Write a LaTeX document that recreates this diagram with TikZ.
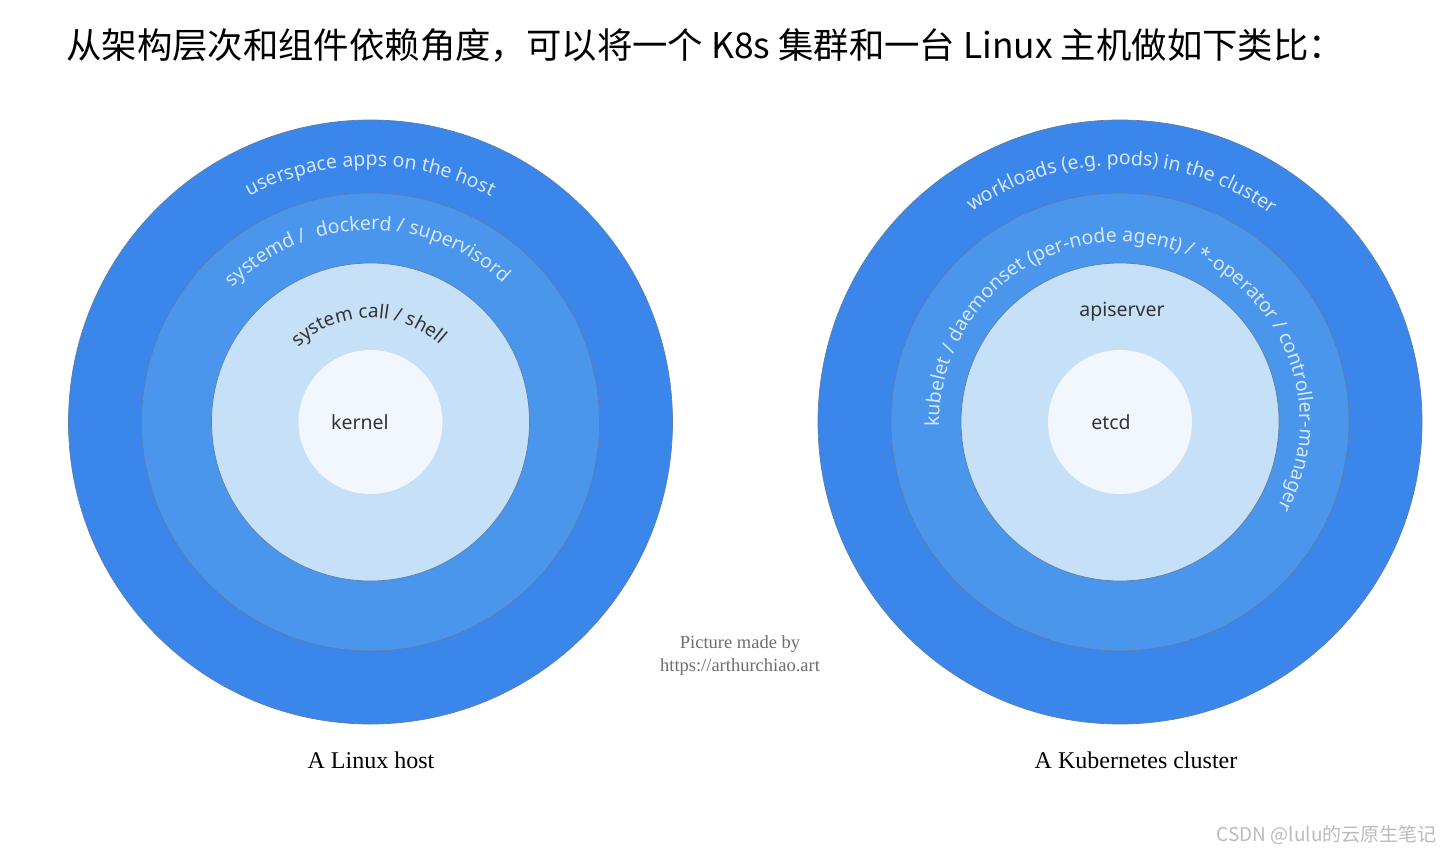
\documentclass[tikz,border=0pt]{standalone}
\usepackage{fontspec}
\setmainfont{Liberation Serif}
\newfontfamily\cjkfont{Noto Sans CJK SC}
\newfontfamily\ringfont{Noto Sans}
\usetikzlibrary{decorations.text}

\definecolor{ringouter}{HTML}{3A86EA}
\definecolor{ringmid}{HTML}{4A96EC}
\definecolor{ringinner}{HTML}{C6E0F8}
\definecolor{ringcore}{HTML}{F2F7FE}
\definecolor{ringedge}{HTML}{5C7FA6}
\definecolor{lighttext}{HTML}{D6E7FB}
\definecolor{darktext}{HTML}{333333}
\definecolor{notegray}{HTML}{6E6E6E}
\definecolor{markgray}{HTML}{BBBBBB}

\tikzset{
  ring/.style={draw=ringedge, line width=0.7pt},
  lightlabel/.style={decorate, decoration={text along path, text align=center,
      text={|\ringfont\fontsize{19.5pt}{19.5pt}\selectfont\color{lighttext}|#1}}},
  darklabel/.style={decorate, decoration={text along path, text align=center,
      text={|\ringfont\fontsize{19pt}{19pt}\selectfont\color{darktext}|#1}}},
  coretext/.style={font=\ringfont\fontsize{19.5pt}{19.5pt}\selectfont, text=darktext},
  caption/.style={font=\fontsize{24pt}{24pt}\selectfont, text=black},
}

\begin{document}
\begin{tikzpicture}[x=1pt, y=1pt, line cap=round, line join=round]
  \useasboundingbox (0,0) rectangle (1452,-854);
  \fill[white] (0,0) rectangle (1452,-854);

  % Title
  \node[anchor=west, inner sep=0pt, font=\cjkfont\fontsize{35.4pt}{35.4pt}\selectfont] (title) at (66,-45)
    {从架构层次和组件依赖角度，可以将一个 K8s 集群和一台 Linux 主机做如下类比：};

  \coordinate (host) at (370.5,-422);
  \coordinate (cluster) at (1120,-422);

  % Rings of the host and of the cluster
  \foreach \ctr in {host, cluster} {
    \fill[ringouter, ring] (\ctr) circle (302);
    \fill[ringmid, ring] (\ctr) circle (229);
    \fill[ringinner, ring] (\ctr) circle (159);
    \fill[ringcore] (\ctr) circle (72);
  }

  % Linux host labels
  \path[lightlabel={userspace apps on the host}] (host) ++(150:256) arc[start angle=150, end angle=30, radius=256];
  \path[lightlabel={systemd /{\ } dockerd / supervisord}] (host) ++(181:192) arc[start angle=181, end angle=1, radius=192];
  \path[darklabel={system call / shell}] (host) ++(171:104) arc[start angle=171, end angle=11, radius=104];
  \node[coretext] (kernel) at (360,-422) {kernel};

  % Kubernetes cluster labels
  \path[lightlabel={workloads (e.g. pods) in the cluster}] (cluster) ++(150:257) arc[start angle=150, end angle=29, radius=257];
  \path[lightlabel={kubelet / daemonset (per-node agent) / *-operator / controller-manager}] (cluster) ++(200:180) arc[start angle=200, end angle=-47, radius=180];
  \node[coretext] (apiserver) at (1122,-312) {apiserver};
  \node[coretext] (etcd) at (1111,-422) {etcd};

  % Captions
  \node[caption] (hostcap) at (371,-760) {A Linux host};
  \node[caption] (clustercap) at (1136,-760) {A Kubernetes cluster};

  \node[align=center, text=notegray, font=\fontsize{18.5pt}{23pt}\selectfont] (credit) at (740,-656)
    {Picture made by\\https://arthurchiao.art};

  \node[anchor=east, inner sep=0pt, text=markgray, font=\cjkfont\fontsize{19pt}{19pt}\selectfont] (mark) at (1437,-835)
    {CSDN @lulu的云原生笔记};
\end{tikzpicture}
\end{document}
